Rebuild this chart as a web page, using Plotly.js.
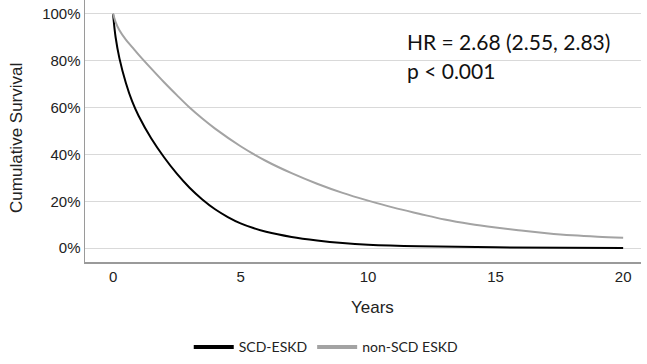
<!DOCTYPE html>
<html>
<head>
<meta charset="utf-8">
<script src="https://cdn.plot.ly/plotly-3.0.1.min.js"></script>
<style>html,body{margin:0;padding:0;background:#fff;}#chart{width:647px;height:364px;}</style>
</head>
<body>
<div id="chart"></div>
<script>
// Years and cumulative survival (%)
const scdYears = [0, 0.1, 0.25, 0.5, 0.75, 1, 1.5, 2, 2.5, 3, 3.5, 4, 4.5, 5, 5.5, 6, 7, 8, 9, 10, 12, 15, 20];
const scdSurv  = [100, 90, 81, 70.6, 62.6, 56.5, 46.8, 38.8, 31.8, 25.8, 20.8, 16.6, 13.3, 10.6, 8.6, 7.0, 4.8, 3.3, 2.2, 1.5, 0.8, 0.35, 0.1];
const nonYears = [0, 0.1, 0.25, 0.5, 0.75, 1, 1.5, 2, 2.5, 3, 3.5, 4, 5, 6, 7, 8, 9, 10, 11, 12, 13, 14, 15, 16, 17, 18, 19, 20];
const nonSurv  = [100, 96.5, 93, 89, 85.8, 82.6, 76.6, 70.8, 65.3, 60, 55.3, 51, 43.5, 37.2, 32, 27.5, 23.6, 20.3, 17.3, 14.7, 12.2, 10.3, 8.8, 7.5, 6.4, 5.5, 4.9, 4.5];
const yTicks = [0, 20, 40, 60, 80, 100];
const yTickText = ["0%", "20%", "40%", "60%", "80%", "100%"];
const xTicks = [0, 5, 10, 15, 20];
const seriesNames = ["SCD-ESKD", "non-SCD ESKD"];
const seriesColors = ["#000000", "#a3a3a3"];
const statLines = ["HR = 2.68 (2.55, 2.83)", "p < 0.001"];
const xTitle = "Years";
const yTitle = "Cumulative Survival";

const traces = [
  {x: scdYears, y: scdSurv, mode: "lines", line: {color: seriesColors[0], width: 2, shape: "spline"}, showlegend: false, hoverinfo: "skip"},
  {x: nonYears, y: nonSurv, mode: "lines", line: {color: seriesColors[1], width: 2, shape: "spline"}, showlegend: false, hoverinfo: "skip"},
  {x: [null], y: [null], mode: "lines", name: seriesNames[0], line: {color: seriesColors[0], width: 4}},
  {x: [null], y: [null], mode: "lines", name: seriesNames[1], line: {color: seriesColors[1], width: 4}}
];

const px = v => (v - 85) / 556;      // pixel x -> paper
const py = v => (264 - v) / 264;     // pixel y -> paper

const layout = {
  width: 647, height: 364,
  margin: {l: 85, r: 6, t: 0, b: 100},
  paper_bgcolor: "#fff", plot_bgcolor: "#fff",
  font: {family: "Liberation Sans, Arial, sans-serif", size: 15, color: "#222"},
  xaxis: {
    range: [-1.1, 20.7], tickvals: xTicks, ticks: "", showgrid: false, zeroline: false,
    showline: true, linecolor: "#9a9a9a", linewidth: 1.5,
    tickfont: {size: 15, color: "#222"}
  },
  yaxis: {
    range: [-5.9, 105.9], tickvals: yTicks, ticktext: yTickText, ticks: "",
    showgrid: true, gridcolor: "#d9d9d9", gridwidth: 1, zeroline: false,
    showline: true, linecolor: "#9a9a9a", linewidth: 1.5,
    tickfont: {size: 15, color: "#222"}
  },
  showlegend: true,
  legend: {orientation: "h", x: 0.1866, xanchor: "left", y: py(350), yanchor: "middle",
    font: {family: "Lato, sans-serif", size: 14, color: "#222"}, itemwidth: 40, bgcolor: "rgba(0,0,0,0)"},
  annotations: [
    {xref: "paper", yref: "paper", x: px(405), y: py(42), xanchor: "left", yanchor: "middle",
     text: statLines[0], showarrow: false, font: {family: "Lato, sans-serif", size: 21, color: "#111"}},
    {xref: "paper", yref: "paper", x: px(405), y: py(71), xanchor: "left", yanchor: "middle",
     text: statLines[1], showarrow: false, font: {family: "Lato, sans-serif", size: 21, color: "#111"}},
    {xref: "paper", yref: "paper", x: px(372), y: py(310), xanchor: "center", yanchor: "middle",
     text: xTitle, showarrow: false, font: {size: 17, color: "#222"}},
    {xref: "paper", yref: "paper", x: px(17), y: py(139), xanchor: "center", yanchor: "middle", textangle: -90,
     text: yTitle, showarrow: false, font: {size: 17, color: "#222"}}
  ]
};

Plotly.newPlot("chart", traces, layout, {displayModeBar: false, staticPlot: true});
</script>
</body>
</html>
